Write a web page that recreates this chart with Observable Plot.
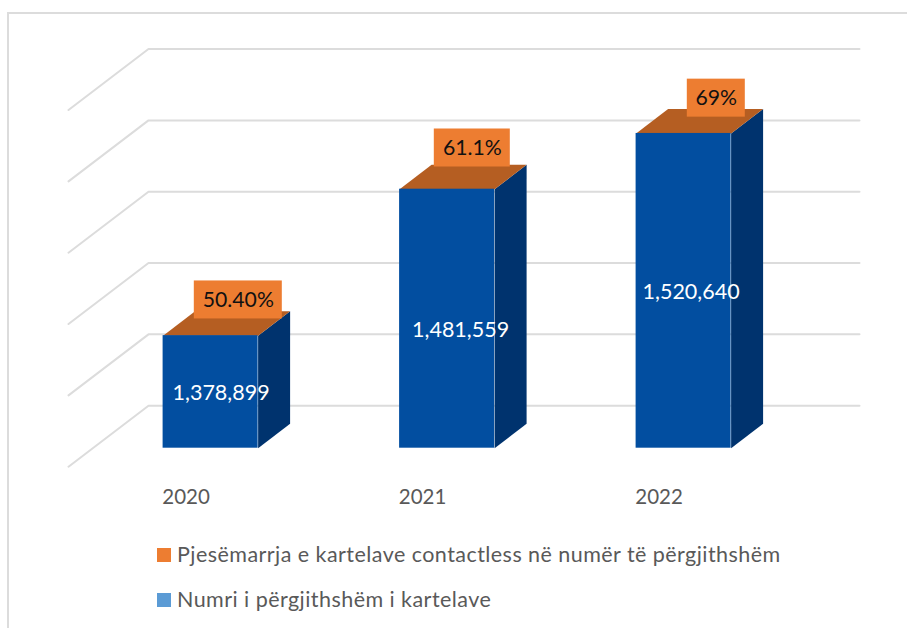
<!DOCTYPE html>
<html>
<head>
<meta charset="utf-8">
<script src="https://cdn.jsdelivr.net/npm/d3@7"></script>
<script src="https://cdn.jsdelivr.net/npm/@observablehq/plot@0.6"></script>
<style>
  html, body { margin: 0; padding: 0; background: #fff; }
  #frame { position: absolute; left: 7px; top: 12px; right: 0; bottom: 0; border-left: 2px solid #dcdcdc; border-top: 2px solid #dcdcdc; }
  #chart { position: absolute; left: 0; top: 0; }
  #chart svg { display: block; background: transparent; overflow: visible; }
  .leg { position: absolute; left: 157px; font: 21.5px Lato, sans-serif; letter-spacing: 0.45px; color: #595959; white-space: nowrap; line-height: 24px; }
  .leg i { position: absolute; left: 0; top: 5px; width: 14px; height: 14px; }
  .leg span { position: absolute; left: 20px; top: -1px; }
</style>
</head>
<body>
<div id="frame"></div>
<div id="chart"></div>
<div class="leg" style="top:543px"><i style="background:#ED7D31"></i><span>Pjesëmarrja e kartelave contactless në numër të përgjithshëm</span></div>
<div class="leg" style="top:588px"><i style="background:#5B9BD5"></i><span>Numri i përgjithshëm i kartelave</span></div>
<script>
const years = ["2020", "2021", "2022"];
const totalCards = [1378899, 1481559, 1520640];
const contactlessLabels = ["50.40%", "61.1%", "69%"];
const gridValues = [1300000, 1350000, 1400000, 1450000, 1500000, 1550000];

// layout, in pixels, converted to scale units below
const W = 907, H = 520, baseY = 447.7, pxPerStep = 236.5, firstBar = 210.1;
const base = 1300000, k = 701;
const ux = (px) => px / pxPerStep;
const uy = (px) => px * k;
const halfBar = ux(47.5), depthX = ux(32), depthY = uy(24.5);
const wallBackY = uy(42.5), wallFrontY = uy(61), wallLeft = ux(80);
const wallStart = (148 - firstBar) / pxPerStep, wallEnd = (859 - firstBar) / pxPerStep;

const bars = years.map((year, i) => ({year, i, v: totalCards[i], label: contactlessLabels[i]}));

const grid = gridValues.flatMap((v) => [
  {v, x: wallStart - wallLeft, y: v + wallBackY - wallFrontY},
  {v, x: wallStart, y: v + wallBackY},
  {v, x: wallEnd, y: v + wallBackY}
]);
const side = bars.flatMap((b) => [
  {z: b.year, x: b.i + halfBar, y: base},
  {z: b.year, x: b.i + halfBar + depthX, y: base + depthY},
  {z: b.year, x: b.i + halfBar + depthX, y: b.v + depthY},
  {z: b.year, x: b.i + halfBar, y: b.v}
]);
const top_ = bars.flatMap((b) => [
  {z: b.year, x: b.i - halfBar, y: b.v},
  {z: b.year, x: b.i + halfBar, y: b.v},
  {z: b.year, x: b.i + halfBar + depthX, y: b.v + depthY},
  {z: b.year, x: b.i - halfBar + depthX, y: b.v + depthY}
]);

// label placement relative to each bar (pixels)
const boxCenterDx = [27.7, 25.2, 32.7], boxHalfW = [44, 38, 29], boxCenterDy = [35.7, 41.2, 35.3];
const valueDx = [10.5, 13.5, 7.5], valueDy = [-57.5, -140.5, -159];
const boxes = bars.map((b, i) => ({
  ...b,
  x1: b.i + ux(boxCenterDx[i] - boxHalfW[i]), x2: b.i + ux(boxCenterDx[i] + boxHalfW[i]),
  xc: b.i + ux(boxCenterDx[i]),
  y1: b.v + uy(boxCenterDy[i] - 19), y2: b.v + uy(boxCenterDy[i] + 19),
  yc: b.v + uy(boxCenterDy[i])
}));

const font = "Lato, sans-serif";
const plot = Plot.plot({
  width: W, height: H,
  marginTop: 0, marginRight: 0, marginBottom: 0, marginLeft: 0,
  style: {background: "transparent"},
  x: {axis: null, domain: [(0 - firstBar) / pxPerStep, (W - firstBar) / pxPerStep], range: [0, W]},
  y: {axis: null, domain: [base + (baseY - H) * k, base + baseY * k], range: [H, 0]},
  marks: [
    Plot.line(grid, {x: "x", y: "y", z: "v", stroke: "#dcdcdc", strokeWidth: 2, strokeLinejoin: "miter"}),
    Plot.line(side, {x: "x", y: "y", z: "z", fill: "#00336E", stroke: "none"}),
    Plot.line(top_, {x: "x", y: "y", z: "z", fill: "#B55E22", stroke: "none"}),
    Plot.rect(bars, {x1: (d) => d.i - halfBar, x2: (d) => d.i + halfBar, y1: () => base, y2: "v", fill: "#024EA0"}),
    Plot.text(bars, {x: (d, i) => d.i + ux(valueDx[i]), y: (d, i) => d.v + uy(valueDy[i]), text: (d) => d3.format(",")(d.v), fill: "#fff", fontSize: 21.5, fontFamily: font}),
    Plot.rect(boxes, {x1: "x1", x2: "x2", y1: "y1", y2: "y2", fill: "#ED7D31"}),
    Plot.text(boxes, {x: "xc", y: "yc", text: "label", fill: "#111", fontSize: 21.2, fontFamily: font}),
    Plot.text(bars, {x: (d) => d.i - ux(24.5), y: () => base - uy(49.5), text: "year", fill: "#595959", fontSize: 20.5, fontFamily: font})
  ]
});
document.getElementById("chart").appendChild(plot);
</script>
</body>
</html>
